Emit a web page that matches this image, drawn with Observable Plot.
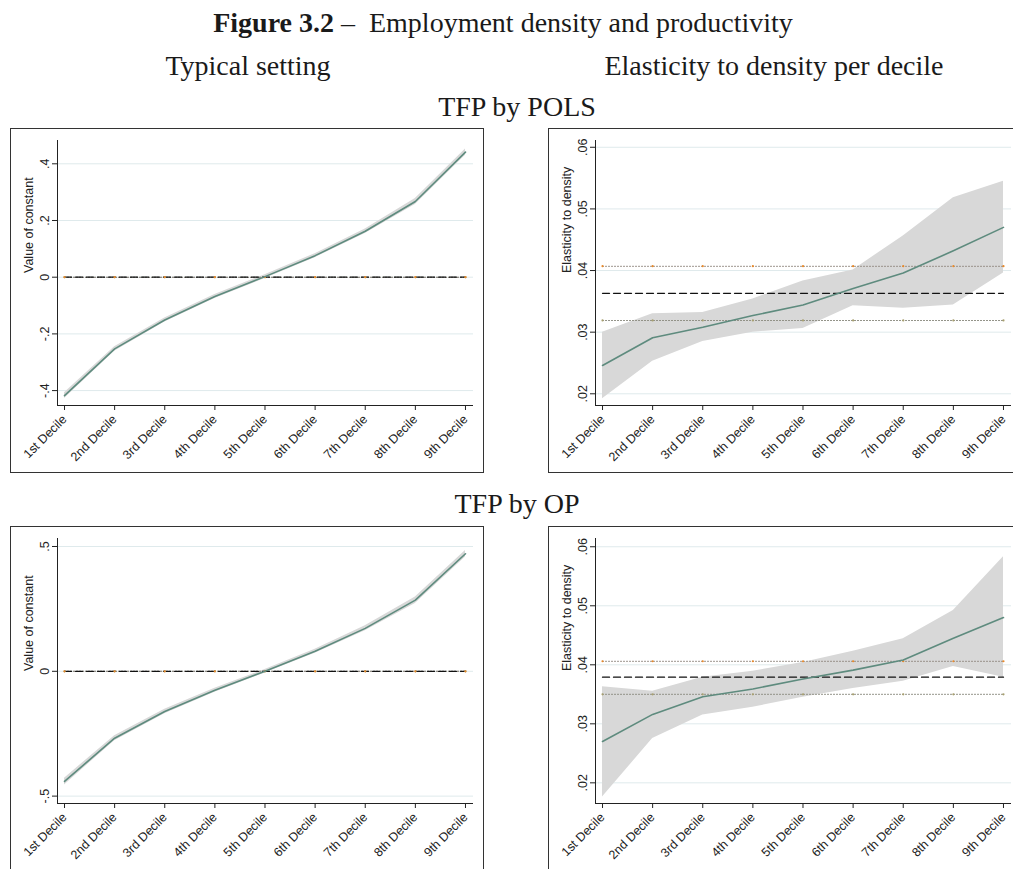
<!DOCTYPE html>
<html>
<head>
<meta charset="utf-8">
<script src="https://cdn.jsdelivr.net/npm/d3@7"></script>
<script src="https://cdn.jsdelivr.net/npm/@observablehq/plot@0.6"></script>
<style>
  body { margin: 0; background: #fff; }
  #page { position: relative; width: 1013px; height: 869px; overflow: hidden; background: #fff;
          font-family: "Liberation Serif", "Times New Roman", serif; color: #1a1a1a; }
  .hd { position: absolute; width: 600px; font-size: 28px; line-height: 28px; text-align: center; white-space: nowrap; }
  .panel { position: absolute; width: 474px; height: 345px; outline: 1.5px solid #333; outline-offset: -1.5px; }
  .panel svg { display: block; }
</style>
</head>
<body>
<div id="page">
  <div class="hd" style="left:203px; top:9px;"><b>Figure 3.2</b> –&nbsp; Employment density and productivity</div>
  <div class="hd" style="left:-52px; top:52px;">Typical setting</div>
  <div class="hd" style="left:474px; top:52px;">Elasticity to density per decile</div>
  <div class="hd" style="left:217px; top:93px;">TFP by POLS</div>
  <div class="hd" style="left:217px; top:490px;">TFP by OP</div>
  <div class="panel" id="p1" style="left:10px; top:128px;"></div>
  <div class="panel" id="p2" style="left:548px; top:128px;"></div>
  <div class="panel" id="p3" style="left:10px; top:526px;"></div>
  <div class="panel" id="p4" style="left:548px; top:526px;"></div>
</div>
<script>
// ---- Data ----
const deciles = ["1st Decile", "2nd Decile", "3rd Decile", "4th Decile", "5th Decile",
                 "6th Decile", "7th Decile", "8th Decile", "9th Decile"];

// TFP by POLS – typical setting (value of constant)
const polsConst   = [-0.418, -0.253, -0.151, -0.068, 0.002, 0.076, 0.162, 0.267, 0.441];
const polsConstLo = [-0.428, -0.261, -0.158, -0.075, -0.005, 0.069, 0.154, 0.256, 0.430];
const polsConstHi = [-0.408, -0.245, -0.144, -0.061, 0.009, 0.083, 0.170, 0.278, 0.452];
const polsConstRef = 0, polsConstRefLo = 0, polsConstRefHi = 0;
const polsConstTicks = [-0.4, -0.2, 0, 0.2, 0.4];

// TFP by POLS – elasticity to density per decile
const polsElas   = [0.0246, 0.0291, 0.0308, 0.0327, 0.0344, 0.0371, 0.0396, 0.0432, 0.0470];
const polsElasLo = [0.0192, 0.0253, 0.0285, 0.0300, 0.0306, 0.0343, 0.0339, 0.0344, 0.0396];
const polsElasHi = [0.0300, 0.0330, 0.0332, 0.0354, 0.0383, 0.0401, 0.0456, 0.0518, 0.0545];
const polsElasRef = 0.0363, polsElasRefLo = 0.0319, polsElasRefHi = 0.0407;
const elasTicks = [0.02, 0.03, 0.04, 0.05, 0.06];

// TFP by OP – typical setting (value of constant)
const opConst   = [-0.441, -0.268, -0.161, -0.076, 0.000, 0.080, 0.172, 0.285, 0.471];
const opConstLo = [-0.455, -0.278, -0.170, -0.084, -0.007, 0.072, 0.162, 0.272, 0.458];
const opConstHi = [-0.428, -0.258, -0.152, -0.068, 0.007, 0.088, 0.182, 0.298, 0.484];
const opConstRef = 0, opConstRefLo = 0, opConstRefHi = 0;
const opConstTicks = [-0.5, 0, 0.5];

// TFP by OP – elasticity to density per decile
const opElas   = [0.0270, 0.0316, 0.0346, 0.0359, 0.0376, 0.0391, 0.0408, 0.0445, 0.0480];
const opElasLo = [0.0176, 0.0275, 0.0315, 0.0328, 0.0345, 0.0360, 0.0372, 0.0397, 0.0379];
const opElasHi = [0.0363, 0.0355, 0.0379, 0.0389, 0.0404, 0.0423, 0.0444, 0.0492, 0.0583];
const opElasRef = 0.0379, opElasRefLo = 0.0350, opElasRefHi = 0.0406;

// ---- Drawing ----
const lineColor = "#5e8b7e";
const xDomain = [0.86, 9.16];

function fmt(d) {
  if (d === 0) return "0";
  const s = String(Math.abs(+d.toFixed(4))).replace(/^0/, "");
  return (d < 0 ? "-" : "") + s;
}

function panel({values, lo, hi, ref, refLo, refHi, yDomain, ticks, label}) {
  const rows = deciles.map((d, i) => ({i: i + 1, v: values[i], lo: lo[i], hi: hi[i],
                                       ref, refLo, refHi}));
  return Plot.plot({
    width: 474, height: 345,
    marginLeft: 47, marginRight: 11, marginTop: 12, marginBottom: 68,
    x: {type: "linear", domain: xDomain},
    y: {domain: yDomain},
    style: {fontFamily: "'Liberation Sans', Arial, sans-serif", fontSize: "12.5px", color: "#222", background: "transparent"},
    marks: [
      Plot.gridY(ticks, {stroke: "#dfeaec", strokeOpacity: 1, strokeWidth: 1}),
      Plot.areaY(rows, {x: "i", y1: "lo", y2: "hi", fill: "#d8d8d8", fillOpacity: 1}),
      Plot.lineY(rows, {x: "i", y: "refLo", stroke: "#8c8c80", strokeWidth: 1.1, strokeDasharray: "1,2"}),
      Plot.lineY(rows, {x: "i", y: "refHi", stroke: "#948c84", strokeWidth: 1.1, strokeDasharray: "1,2"}),
      Plot.lineY(rows, {x: "i", y: "ref", stroke: "#111", strokeWidth: 1.3, strokeDasharray: "7,4"}),
      Plot.dot(rows, {x: "i", y: "refLo", r: 1.1, fill: "#a8a070", stroke: null}),
      Plot.dot(rows, {x: "i", y: "refHi", r: 1.1, fill: "#e8892a", stroke: null}),
      Plot.lineY(rows, {x: "i", y: "v", stroke: lineColor, strokeWidth: 1.6}),
      Plot.ruleY([yDomain[0]], {stroke: "#222", strokeWidth: 1}),
      Plot.ruleX([xDomain[0]], {stroke: "#222", strokeWidth: 1}),
      Plot.axisX(rows.map(r => r.i), {tickFormat: i => deciles[i - 1], tickRotate: -45, tickSize: 5, label: null}),
      Plot.axisY(ticks, {tickFormat: fmt, tickRotate: -90, tickSize: 5, label: null}),
      Plot.text([label], {frameAnchor: "left", dx: -29, rotate: -90, fontSize: 12.5, fill: "#222"})
    ]
  });
}

document.getElementById("p1").append(panel({
  values: polsConst, lo: polsConstLo, hi: polsConstHi,
  ref: polsConstRef, refLo: polsConstRefLo, refHi: polsConstRefHi,
  yDomain: [-0.4526, 0.4822], ticks: polsConstTicks, label: "Value of constant"
}));
document.getElementById("p2").append(panel({
  values: polsElas, lo: polsElasLo, hi: polsElasHi,
  ref: polsElasRef, refLo: polsElasRefLo, refHi: polsElasRefHi,
  yDomain: [0.0181, 0.0611], ticks: elasTicks, label: "Elasticity to density"
}));
document.getElementById("p3").append(panel({
  values: opConst, lo: opConstLo, hi: opConstHi,
  ref: opConstRef, refLo: opConstRefLo, refHi: opConstRefHi,
  yDomain: [-0.5296, 0.532], ticks: opConstTicks, label: "Value of constant"
}));
document.getElementById("p4").append(panel({
  values: opElas, lo: opElasLo, hi: opElasHi,
  ref: opElasRef, refLo: opElasRefLo, refHi: opElasRefHi,
  yDomain: [0.0165, 0.0614], ticks: elasTicks, label: "Elasticity to density"
}));
</script>
</body>
</html>
